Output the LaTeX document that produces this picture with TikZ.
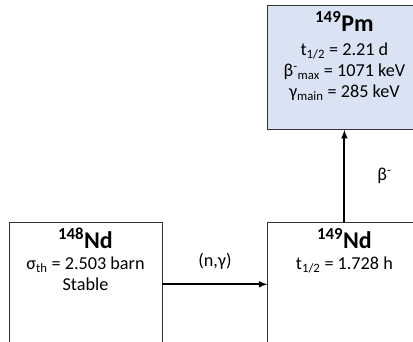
\documentclass[tikz,border=0pt]{standalone}
\usepackage{fontspec}
\setmainfont{Carlito}
\usepackage{xcolor}
\usepackage{tikz}
\usetikzlibrary{positioning}
\definecolor{pmblue}{RGB}{218,227,243}
\tikzset{
    nuclide/.style={draw=black!80, line width=0.9pt, minimum width=153pt, minimum height=124pt, inner sep=0pt},
    nucname/.style={anchor=base, inner sep=0pt, font=\fontsize{24}{26}\selectfont\bfseries},
    nucdata/.style={anchor=north, align=center, inner sep=0pt, font=\fontsize{18.2}{21}\selectfont},
    flow/.style={->, line width=1.9pt},
    flowlabel/.style={inner sep=0pt, font=\fontsize{18.2}{21}\selectfont},
}

\begin{document}
\begin{tikzpicture}[>=latex, x=1pt, y=-1pt]
    % Bildausschnitt
    \useasboundingbox (0,0) rectangle (413,342);
    \clip (0,0) rectangle (413,342);
    % Kerne
    \node[nuclide] (nd148) at (85.5,284.3) {};
    \node[nuclide, right=105pt of nd148] (nd149) {};
    \node[nuclide, fill=pmblue, above=92pt of nd149] (pm149) {};
    % Beschriftung der Kerne
    \node[nucname] (nd148name) at ([yshift=-27pt]nd148.north) {\textsuperscript{148}Nd};
    \node[nucdata] (nd148data) at ([yshift=-8pt]nd148name.base) {σ\textsubscript{th} = 2.503 barn\\Stable};
    \node[nucname] (nd149name) at ([yshift=-27pt]nd149.north) {\textsuperscript{149}Nd};
    \node[nucdata] (nd149data) at ([yshift=-8pt]nd149name.base) {t\textsubscript{1/2} = 1.728 h};
    \node[nucname] (pm149name) at ([yshift=-27pt]pm149.north) {\textsuperscript{149}Pm};
    \node[nucdata] (pm149data) at ([yshift=-11pt]pm149name.base)
        {t\textsubscript{1/2} = 2.21 d\\β\textsuperscript{-}\textsubscript{max} = 1071 keV\\γ\textsubscript{main} = 285 keV};
    % Reaktionen
    \draw[flow] (nd148) -- node[flowlabel, above=14pt] (ngamma) {(n,γ)} (nd149);
    \draw[flow] (nd149) -- node[flowlabel, right=32pt] (betadecay) {β\textsuperscript{-}} (pm149);
\end{tikzpicture}
\end{document}
